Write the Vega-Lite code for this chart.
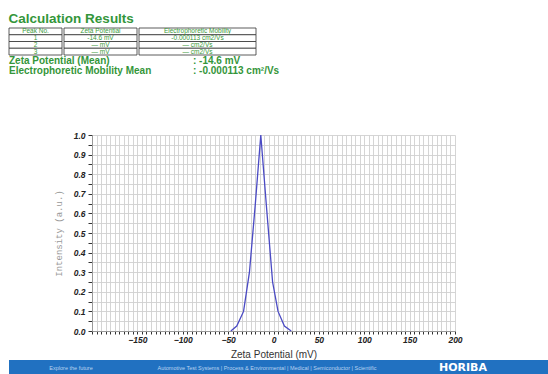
{
  "$schema": "https://vega.github.io/schema/vega-lite/v6.json",
  "padding": {"left": 8, "top": 12, "right": 0, "bottom": 0},
  "background": "white",
  "spacing": 0,
  "config": {
    "view": {"stroke": null},
    "font": "Liberation Sans",
    "axis": {
      "labelFont": "Liberation Sans", "labelFontSize": 8.5, "labelFontWeight": "bold", "labelFontStyle": "italic", "labelColor": "#222",
      "labelOverlap": false, "labelFlush": false,
      "tickColor": "#333", "domainColor": "#999",
      "grid": true, "gridColor": "#d0d0d0", "gridWidth": 0.9,
      "titleFontWeight": "normal"
    }
  },
  "vconcat": [
    {
      "title": {"text": "Calculation Results", "anchor": "start", "fontSize": 13.5, "font": "Liberation Sans", "fontWeight": "bold", "color": "#34963a", "offset": 2},
      "spacing": 0,
      "hconcat": [
        {
          "width": 53, "height": 27,
          "data": {"values": [
            {"row": "h", "text": "Peak No."},
            {"row": "1", "text": "1"},
            {"row": "2", "text": "2"},
            {"row": "3", "text": "3"}
          ]},
          "encoding": {"y": {"field": "row", "type": "ordinal", "scale": {"domain": ["h", "1", "2", "3"], "paddingInner": 0, "paddingOuter": 0}, "axis": null}},
          "layer": [
            {"mark": {"type": "rect", "fill": "white", "stroke": "#333", "strokeWidth": 0.8}},
            {"mark": {"type": "text", "fontSize": 6.5, "color": "#3a9a3a"}, "encoding": {"text": {"field": "text"}}}
          ]
        },
        {
          "width": 73, "height": 27,
          "data": {"values": [
            {"row": "h", "text": "Zeta Potential"},
            {"row": "1", "text": "-14.6 mV"},
            {"row": "2", "text": "— mV"},
            {"row": "3", "text": "— mV"}
          ]},
          "encoding": {"y": {"field": "row", "type": "ordinal", "scale": {"domain": ["h", "1", "2", "3"], "paddingInner": 0, "paddingOuter": 0}, "axis": null}},
          "layer": [
            {"mark": {"type": "rect", "fill": "white", "stroke": "#333", "strokeWidth": 0.8}},
            {"mark": {"type": "text", "fontSize": 6.5, "color": "#3a9a3a"}, "encoding": {"text": {"field": "text"}}}
          ]
        },
        {
          "width": 117, "height": 27,
          "data": {"values": [
            {"row": "h", "text": "Electrophoretic Mobility"},
            {"row": "1", "text": "-0.000113 cm2/Vs"},
            {"row": "2", "text": "— cm2/Vs"},
            {"row": "3", "text": "— cm2/Vs"}
          ]},
          "encoding": {"y": {"field": "row", "type": "ordinal", "scale": {"domain": ["h", "1", "2", "3"], "paddingInner": 0, "paddingOuter": 0}, "axis": null}},
          "layer": [
            {"mark": {"type": "rect", "fill": "white", "stroke": "#333", "strokeWidth": 0.8}},
            {"mark": {"type": "text", "fontSize": 6.5, "color": "#3a9a3a"}, "encoding": {"text": {"field": "text"}}}
          ]
        }
      ]
    },
    {
      "width": 368, "height": 75,
      "data": {"values": [
        {"row": "1", "col": "label", "text": "Zeta Potential (Mean)"},
        {"row": "1", "col": "value", "text": ":  -14.6 mV"},
        {"row": "2", "col": "label", "text": "Electrophoretic Mobility Mean"},
        {"row": "2", "col": "value", "text": ":  -0.000113 cm²/Vs"}
      ]},
      "mark": {"type": "text", "align": "left", "fontSize": 10, "fontWeight": "bold", "color": "#34963a"},
      "encoding": {
        "x": {"field": "col", "type": "nominal", "bandPosition": 0, "scale": {"type": "band", "paddingInner": 0, "paddingOuter": 0}, "axis": null},
        "y": {"field": "row", "type": "ordinal", "scale": {"type": "band", "range": [0, 20], "paddingInner": 0, "paddingOuter": 0}, "axis": null},
        "text": {"field": "text"}
      }
    },
    {
      "spacing": 44,
      "hconcat": [
        {"width": 1, "height": 1, "data": {"values": []}, "mark": "point"},
        {
          "width": 363, "height": 196,
          "view": {"fill": "white"},
          "data": {"values": [
            {"zeta": -47, "intensity": 0},
            {"zeta": -40.5, "intensity": 0.025},
            {"zeta": -33, "intensity": 0.1},
            {"zeta": -26.5, "intensity": 0.3},
            {"zeta": -20, "intensity": 0.65},
            {"zeta": -14, "intensity": 1.0},
            {"zeta": -7.5, "intensity": 0.62},
            {"zeta": -1, "intensity": 0.25},
            {"zeta": 5, "intensity": 0.1},
            {"zeta": 12, "intensity": 0.025},
            {"zeta": 19.5, "intensity": 0}
          ]},
          "mark": {"type": "line", "color": "#4a4ac4", "strokeWidth": 1.3},
          "encoding": {
            "x": {
              "field": "zeta", "type": "quantitative",
              "scale": {"domain": [-200, 200], "nice": false},
              "axis": {
                "title": "Zeta Potential (mV)",
                "titleFont": "Liberation Sans", "titleFontSize": 10, "titleColor": "#333", "titlePadding": 6,
                "values": [-200,-195,-190,-185,-180,-175,-170,-165,-160,-155,-150,-145,-140,-135,-130,-125,-120,-115,-110,-105,-100,-95,-90,-85,-80,-75,-70,-65,-60,-55,-50,-45,-40,-35,-30,-25,-20,-15,-10,-5,0,5,10,15,20,25,30,35,40,45,50,55,60,65,70,75,80,85,90,95,100,105,110,115,120,125,130,135,140,145,150,155,160,165,170,175,180,185,190,195,200],
                "labelExpr": "datum.value % 50 == 0 && datum.value > -200 ? datum.label : ''",
                "labelPadding": 1,
                "tickSize": 3
              }
            },
            "y": {
              "field": "intensity", "type": "quantitative",
              "scale": {"domain": [0, 1], "nice": false},
              "axis": {
                "title": "Intensity (a.u.)",
                "titleFont": "Liberation Mono", "titleFontSize": 9, "titleColor": "#999", "titlePadding": 10,
                "values": [0,0.05,0.1,0.15,0.2,0.25,0.3,0.35,0.4,0.45,0.5,0.55,0.6,0.65,0.7,0.75,0.8,0.85,0.9,0.95,1.0],
                "labelExpr": "abs(datum.value*10 - round(datum.value*10)) < 0.001 ? format(datum.value, '.1f') : ''",
                "labelPadding": 3,
                "tickSize": 4
              }
            }
          }
        }
      ]
    },
    {
      "width": 540, "height": 15,
      "view": {"fill": "#2171c1", "stroke": null},
      "layer": [
        {
          "data": {"values": [
            {"slot": "a", "text": "Explore the future"},
            {"slot": "b", "text": "Automotive Test Systems  |  Process & Environmental  |  Medical  |  Semiconductor  |  Scientific"}
          ]},
          "mark": {"type": "text", "fontSize": 5.5, "color": "#b9d3f0"},
          "encoding": {
            "x": {"field": "slot", "type": "ordinal", "scale": {"type": "point", "domain": ["a", "b", "c"], "range": [62, 454], "padding": 0}, "axis": null},
            "text": {"field": "text"}
          }
        },
        {
          "data": {"values": [{"slot": "c", "text": "HORIBA"}]},
          "mark": {"type": "text", "fontSize": 11, "font": "DejaVu Sans", "fontWeight": "bold", "color": "#ffffff"},
          "encoding": {
            "x": {"field": "slot", "type": "ordinal", "scale": {"type": "point", "domain": ["a", "b", "c"], "range": [62, 454], "padding": 0}, "axis": null},
            "text": {"field": "text"}
          }
        }
      ]
    }
  ]
}
